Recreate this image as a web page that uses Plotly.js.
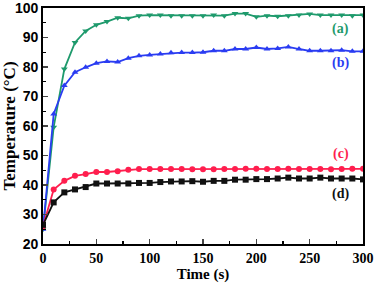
<!DOCTYPE html>
<html>
<head>
<meta charset="utf-8">
<script src="https://cdn.plot.ly/plotly-3.0.1.min.js"></script>
<style>html,body{margin:0;padding:0;background:#fff;}#chart{width:376px;height:284px;}</style>
</head>
<body>
<div id="chart"></div>
<script>
var times = [0,10,20,30,40,50,60,70,80,90,100,110,120,130,140,150,160,170,180,190,200,210,220,230,240,250,260,270,280,290,300];
var seriesA = [25,59.6,79.3,88.3,92.2,94.3,95.4,96.7,96.5,97.4,97.6,97.6,97.4,97.4,97.4,97.4,97.6,97.4,98.1,98.1,97.0,97.4,97.2,97.4,97.6,98.0,97.6,97.6,97.6,97.4,97.6];
var seriesB = [25,64.1,73.7,78.2,79.9,81.3,81.9,81.7,83.0,83.8,84.1,84.4,84.8,84.9,84.9,85.0,85.5,85.5,86.1,86.1,86.6,86.1,86.3,86.8,86.1,85.5,85.5,85.5,85.7,85.3,85.3];
var seriesC = [26,38.5,41.4,43.1,43.7,44.4,44.4,44.7,45.2,45.4,45.4,45.4,45.4,45.4,45.3,45.3,45.3,45.4,45.4,45.5,45.5,45.4,45.4,45.5,45.4,45.4,45.4,45.3,45.4,45.5,45.5];
var seriesD = [26.5,34.1,37.5,38.5,39.3,40.5,40.5,40.5,40.5,40.7,40.7,41.0,41.2,41.2,41.3,41.1,41.4,41.4,41.8,41.8,42.0,42.0,42.2,42.5,42.2,42.2,42.5,42.2,42.2,42.2,41.9];
var labels = ['(a)','(b)','(c)','(d)'];
var labelX = [279,279,279,279];
var labelY = [92.9,81.5,50.6,36.8];
var colors = ['#1e9a6c','#2a3cf2','#ff1e4e','#111111'];
var symbols = ['triangle-down','triangle-up','circle','square'];

var all = [seriesA, seriesB, seriesC, seriesD];
var traces = all.map(function(ys, i){
  return {x: times, y: ys, type: 'scatter', mode: 'lines+markers',
    line: {color: colors[i], width: 1.8},
    marker: {color: colors[i], symbol: symbols[i], size: 6},
    showlegend: false, cliponaxis: true};
});
var serif = 'Liberation Serif, Times New Roman, serif';
var annotations = labels.map(function(t, i){
  return {x: labelX[i], y: labelY[i], xref: 'x', yref: 'y', text: '<b>' + t + '</b>', showarrow: false,
    font: {family: serif, size: 14, color: colors[i]}};
});
var layout = {
  width: 376, height: 284,
  margin: {l: 43, r: 13, t: 8, b: 40},
  paper_bgcolor: '#fff', plot_bgcolor: '#fff',
  xaxis: {range: [0, 300], tickvals: [0,50,100,150,200,250,300], ticks: 'inside', ticklen: 5, tickwidth: 1.5,
    showline: true, linecolor: '#000', linewidth: 1.8, mirror: true, showgrid: false, zeroline: false,
    ticklabeloverflow: 'allow',
    minor: {tickvals: [25,75,125,175,225,275], ticks: 'inside', ticklen: 3, tickwidth: 1.2, tickcolor: '#000'},
    tickfont: {family: serif, size: 14, weight: 'bold', color: '#000'},
    title: {text: '<b>Time (s)</b>', font: {family: serif, size: 15, color: '#000'}, standoff: 2}},
  yaxis: {range: [20, 100], tickvals: [20,30,40,50,60,70,80,90,100], ticks: 'inside', ticklen: 5, tickwidth: 1.5,
    showline: true, linecolor: '#000', linewidth: 1.8, mirror: true, showgrid: false, zeroline: false,
    ticklabeloverflow: 'allow',
    minor: {tickvals: [25,35,45,55,65,75,85,95], ticks: 'inside', ticklen: 3, tickwidth: 1.2, tickcolor: '#000'},
    tickfont: {family: 'Liberation Sans, Arial, sans-serif', size: 14, weight: 'bold', color: '#000'},
    title: {text: '<b>Temperature (°C)</b>', font: {family: serif, size: 17, color: '#000'}, standoff: 0}},
  annotations: annotations
};
Plotly.newPlot('chart', traces, layout, {staticPlot: true, displayModeBar: false});
</script>
</body>
</html>
